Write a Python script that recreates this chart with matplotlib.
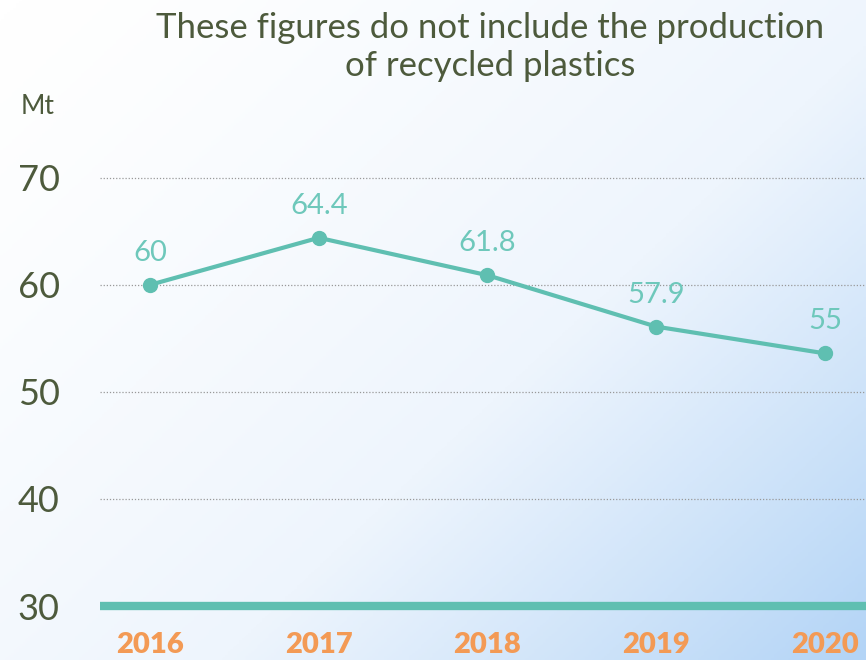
import numpy as np
import matplotlib
matplotlib.use("Agg")
import matplotlib.pyplot as plt
from matplotlib.colors import LinearSegmentedColormap

# data
years = [2016, 2017, 2018, 2019, 2020]
values = [60, 64.4, 60.9, 56.1, 53.6]          # where the points sit in the picture
labels = ["60", "64.4", "61.8", "57.9", "55"]  # printed values
yticks = [30, 40, 50, 60, 70]

teal = "#5fbfb1"
label_teal = "#6ec8bb"
olive = "#4d5a3c"
orange = "#f39a55"

plt.rcParams['font.family'] = ['Lato', 'DejaVu Sans']

fig = plt.figure(figsize=(8.66, 6.6), dpi=100)

# gradient background
bg = fig.add_axes([0, 0, 1, 1])
xx, yy = np.meshgrid(np.linspace(0, 1, 300), np.linspace(0, 1, 300))
t = np.clip((xx * 0.75 + yy * 0.6) / 1.35, 0, 1) ** 1.3
cmap = LinearSegmentedColormap.from_list("bg", ["#ffffff", "#eef5fd", "#b3d4f6"])
bg.imshow(t, cmap=cmap, extent=[0, 1, 0, 1], origin="upper", aspect="auto")
bg.axis("off")

ax = fig.add_axes([100 / 866, 1 - 606 / 660, 766 / 866, 456 / 660])
ax.patch.set_alpha(0)
ax.set_xlim(2015.704, 2020.243)
ax.set_ylim(30, 72.6)

for g in yticks[1:]:
    ax.axhline(g, color="#999999", lw=0.9, ls=(0, (1, 1.5)), zorder=1)
ax.axhline(30, color=teal, lw=6, zorder=2, clip_on=False, solid_capstyle="butt")

ax.plot(years, values, color=teal, lw=3, marker="o", ms=10, zorder=3)
for x, y, s in zip(years, values, labels):
    ax.annotate(s, (x, y), xytext=(0, 23), textcoords="offset points",
                ha="center", va="center", fontsize=21, color=label_teal)

ax.set_yticks(yticks)
ax.set_yticklabels([str(v) for v in yticks], fontsize=26, color=olive)
ax.set_xticks(years)
ax.set_xticklabels([str(y) for y in years], fontsize=21, color=orange, fontweight="heavy")
ax.tick_params(axis="y", length=0, pad=29)
ax.tick_params(axis="x", length=0, pad=19)
for sp in ax.spines.values():
    sp.set_visible(False)

fig.text(490 / 866, 1 - 47 / 660, "These figures do not include the production\nof recycled plastics",
         ha="center", va="center", fontsize=25, color=olive, linespacing=1.2)
fig.text(38 / 866, 1 - 107 / 660, "Mt", ha="center", va="center", fontsize=19,
         color=olive)

fig.savefig("out.png", dpi=100)
